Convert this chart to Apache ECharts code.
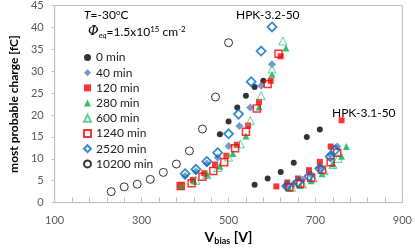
<!DOCTYPE html>
<html><head><meta charset="utf-8">
<script src="https://cdn.jsdelivr.net/npm/echarts@6/dist/echarts.min.js"></script>
<style>html,body{margin:0;padding:0;background:#fff}#c{width:415px;height:251px}</style>
</head><body><div id="c"></div>
<script>
// Data: [V_bias, most probable charge]
const seriesNames = ['0 min','40 min','120 min','280 min','600 min','1240 min','2520 min','10200 min'];
const xTicks = [100,300,500,700,900];
const yTicks = [0,5,10,15,20,25,30,35,40,45];

const v0   = [480,500,520,540,560,580, 560,590,620,650,680,710];
const q0   = [15.6,18.5,21.7,24.4,26.4,27.8, 4.1,5.5,7.0,9.1,15.0,16.7];
const v40  = [400,425,450,475,500,525,550,575,600, 630,650,670,690,710,734,750];
const q40  = [6.1,7.1,8.9,10.3,12.9,17.5,21.7,26.7,31.6, 3.7,4.3,5.2,6.4,8.0,10.9,12.8];
const v120 = [390,418,444,469,495,519,545,570,597,620, 610,635,660,685,710,735,760];
const q120 = [3.9,5.2,6.7,8.7,10.7,13.2,17.6,23.0,27.8,33.4, 3.7,4.6,5.5,7.4,9.3,12.8,18.8];
const v280 = [390,420,450,480,510,540,570,600,632, 640,665,690,715,740,760,771];
const q280 = [3.8,5.0,6.5,8.3,11.2,15.2,21.8,29.3,35.3, 3.3,3.9,5.0,6.6,8.8,10.6,12.8];
const v600 = [425,450,475,500,527,550,575,600,625, 645,670,695,720,740,752];
const q600 = [5.1,6.4,8.0,10.4,13.4,18.7,24.4,30.5,36.9, 3.5,4.3,5.6,7.3,8.7,10.1];
const v1240 = [390,415,440,465,490,515,540,565,590,615, 640,665,690,715,735,750];
const q1240 = [3.8,4.4,5.9,7.2,9.2,12.4,16.2,21.5,27.1,34.0, 3.5,4.3,5.7,7.5,9.2,11.4];
const v2520 = [400,425,450,475,500,523,552,575,600, 635,660,685,710,734,745];
const q2520 = [6.6,7.6,9.4,11.4,15.7,20.2,27.6,34.6,40.1, 3.9,4.7,6.0,7.8,10.5,12.0];
const v10200 = [230,260,290,320,350,380,410,440,470,500];
const q10200 = [2.5,3.6,4.2,5.3,6.9,8.8,11.8,16.8,24.1,36.5];

const zip = (a,b) => a.map((v,i)=>[v,b[i]]);
const FONT = 'Lato';

const styles = [
  {symbol:'circle', size:6, itemStyle:{color:'#000'}},
  {symbol:'diamond', size:8, itemStyle:{color:'#4F81BD'}},
  {symbol:'rect', size:6, itemStyle:{color:'#FF0000'}},
  {symbol:'triangle', size:7, itemStyle:{color:'#00B050'}},
  {symbol:'triangle', size:8, itemStyle:{color:'rgba(255,255,255,0)', borderColor:'#3CC47C', borderWidth:1}},
  {symbol:'rect', size:7, itemStyle:{color:'rgba(255,255,255,0)', borderColor:'#FF0000', borderWidth:1.5}},
  {symbol:'diamond', size:9, itemStyle:{color:'rgba(255,255,255,0)', borderColor:'#0070C0', borderWidth:1.8}},
  {symbol:'circle', size:8, itemStyle:{color:'rgba(255,255,255,0)', borderColor:'#000', borderWidth:1}}
];
const dataSets = [zip(v0,q0), zip(v40,q40), zip(v120,q120), zip(v280,q280), zip(v600,q600), zip(v1240,q1240), zip(v2520,q2520), zip(v10200,q10200)];

const series = seriesNames.map((n,i)=>({
  name:n, type:'scatter', data:dataSets[i], symbol:styles[i].symbol, symbolSize:styles[i].size,
  itemStyle:styles[i].itemStyle, emphasis:{disabled:true}, animation:false
}));

const chart = echarts.init(document.getElementById('c'), null, {renderer:'canvas'});
chart.setOption({
  animation:false,
  textStyle:{fontFamily:FONT},
  grid:{left:44, right:11, top:5, bottom:38, show:true, borderColor:'#BFBFBF', borderWidth:1},
  xAxis:{type:'value', min:xTicks[0], max:xTicks[xTicks.length-1], interval:200,
    axisLine:{show:true, lineStyle:{color:'#BFBFBF'}},
    axisTick:{show:true, inside:true, length:5, lineStyle:{color:'#BFBFBF'}},
    minorTick:{show:true, splitNumber:5, length:5, lineStyle:{color:'#BFBFBF'}},
    splitLine:{show:false},
    axisLabel:{color:'#595959', fontSize:11, margin:12, fontFamily:FONT},
    name:'{b|V}{s|bias}{b| [V]}', nameLocation:'middle', nameGap:21,
    nameTextStyle:{rich:{b:{fontSize:14, fontWeight:'bold', color:'#000', fontFamily:FONT}, s:{fontSize:9, fontWeight:'bold', color:'#000', verticalAlign:'bottom', padding:[8,0,0,0], fontFamily:FONT}}}
  },
  yAxis:{type:'value', min:yTicks[0], max:yTicks[yTicks.length-1], interval:5,
    axisLine:{show:true, lineStyle:{color:'#BFBFBF'}},
    axisTick:{show:true, inside:false, length:3, lineStyle:{color:'#BFBFBF'}},
    splitLine:{show:false},
    axisLabel:{color:'#595959', fontSize:11, margin:11, fontFamily:FONT},
    name:'most probable charge [fC]', nameLocation:'middle', nameGap:29,
    nameTextStyle:{fontSize:12, fontWeight:'bold', color:'#000', fontFamily:FONT}
  },
  legend:{orient:'vertical', left:78, top:46.5, itemWidth:7, itemHeight:7, itemGap:3.2,
    textStyle:{fontSize:12, color:'#222', fontFamily:FONT}, data:seriesNames},
  graphic:[
    {type:'text', x:84, y:15, style:{text:'{i|T}{n|=-30}{p|o}{n|C}', verticalAlign:'middle', rich:{
      i:{fontSize:12, fontStyle:'italic', fill:'#000', fontFamily:FONT},
      n:{fontSize:12, fill:'#000', fontFamily:FONT},
      p:{fontSize:8, fill:'#000', verticalAlign:'top', padding:[0,0,6,0], fontFamily:FONT}}}},
    {type:'text', x:88, y:32, style:{text:'{i|Φ}{s|eq}{n|=1.5x10}{p|15}{n| cm}{p|-2}', verticalAlign:'middle', rich:{
      i:{fontSize:13, fontStyle:'italic', fill:'#000', fontFamily:'DejaVu Serif'},
      s:{fontSize:8, fontStyle:'italic', fill:'#000', padding:[6,0,0,0], fontFamily:FONT},
      n:{fontSize:12, fill:'#000', fontFamily:FONT},
      p:{fontSize:8, fill:'#000', padding:[0,0,6,0], fontFamily:FONT}}}},
    {type:'text', x:236, y:15, style:{text:'HPK-3.2-50', fontSize:12, fill:'#000', fontFamily:FONT, verticalAlign:'middle'}},
    {type:'text', x:332, y:113, style:{text:'HPK-3.1-50', fontSize:12, fill:'#000', fontFamily:FONT, verticalAlign:'middle'}}
  ],
  series:series
});
</script></body></html>
